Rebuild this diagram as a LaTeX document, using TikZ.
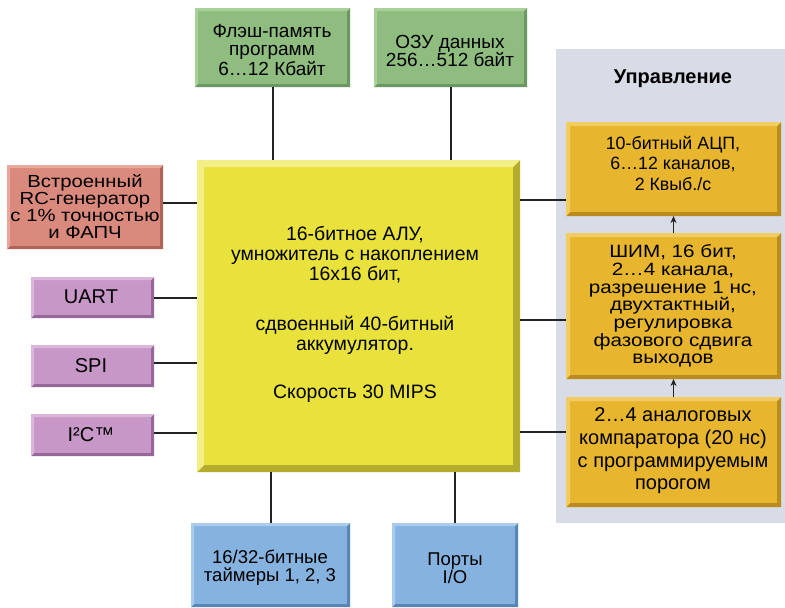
\documentclass[tikz,border=0pt]{standalone}
\usepackage{fontspec}
\setmainfont{Liberation Sans}
\newfontfamily\widesans{Liberation Sans}[FakeStretch=1.16]
\usetikzlibrary{arrows.meta,fit}
\definecolor{cpuY}{HTML}{E9E23C}
\definecolor{cpuD}{HTML}{B3AC2C}
\definecolor{cpuL}{HTML}{F3EF86}
\definecolor{grnF}{HTML}{8EBD7F}
\definecolor{grnD}{HTML}{6A9860}
\definecolor{grnL}{HTML}{A9D09B}
\definecolor{salF}{HTML}{D98A7C}
\definecolor{salD}{HTML}{AE6458}
\definecolor{salL}{HTML}{E8A79A}
\definecolor{purF}{HTML}{C797C8}
\definecolor{purD}{HTML}{96689A}
\definecolor{purL}{HTML}{DBB6DB}
\definecolor{bluF}{HTML}{86B2DF}
\definecolor{bluD}{HTML}{5886B4}
\definecolor{bluL}{HTML}{A9CBEC}
\definecolor{orgF}{HTML}{E7B62E}
\definecolor{orgD}{HTML}{BA8C1C}
\definecolor{orgL}{HTML}{F1CC62}
\definecolor{panelC}{HTML}{D8DCE7}
\definecolor{lineC}{HTML}{222222}
% name, x1, y1, x2, y2, fill, dark, light, bevel
\newcommand\bvbox[9]{%
  \node[inner sep=0pt, outer sep=0pt, fit={(#2,#3)(#4,#5)}, fill=#6] (#1) {};
  \fill[#7] (#1.north east) -- (#1.south east) -- (#1.south west)
    -- ([shift={(#9,-#9)}]#1.south west) -- ([shift={(-#9,-#9)}]#1.south east)
    -- ([shift={(-#9,#9)}]#1.north east) -- cycle;
  \fill[#8] (#1.north west) -- (#1.north east) -- ([shift={(-#9,#9)}]#1.north east)
    -- ([shift={(#9,#9)}]#1.north west) -- ([shift={(#9,-#9)}]#1.south west)
    -- (#1.south west) -- cycle;
}
\tikzset{
  txt/.style 2 args={align=center, inner sep=0pt, text=black, font=\fontsize{#1}{#2}\selectfont},
  wtxt/.style 2 args={align=center, inner sep=0pt, text=black, font=\widesans\fontsize{#1}{#2}\selectfont},
  conn/.style={draw=lineC, line width=2pt},
  upar/.style={draw=lineC, line width=1.5pt, -{Stealth[length=7pt,width=6pt]}}
}
\begin{document}
\begin{tikzpicture}[x=1pt,y=-1pt]
\useasboundingbox (0,0) rectangle (785,608);
\fill[white] (0,0) rectangle (785,608);
% right panel
\node[inner sep=0pt, outer sep=0pt, fit={(556,49)(785,523)}, fill=panelC] (panel) {};
\node[align=center, inner sep=0pt, font=\fontsize{20}{22}\selectfont\bfseries] (ctl) at (673,79) {Управление};
% boxes
\bvbox{flash}{195}{8}{350}{87}{grnF}{grnD}{grnL}{3}
\bvbox{ozu}{374}{8}{527}{87}{grnF}{grnD}{grnL}{3}
\bvbox{rc}{7}{165}{163}{249}{salF}{salD}{salL}{3}
\bvbox{uart}{31}{277}{154}{318}{purF}{purD}{purL}{3}
\bvbox{spi}{31}{345}{154}{387}{purF}{purD}{purL}{3}
\bvbox{iic}{31}{414}{154}{456}{purF}{purD}{purL}{3}
\bvbox{cpu}{197}{160}{520}{472}{cpuY}{cpuD}{cpuL}{7}
\bvbox{tmr}{191}{523}{350}{607}{bluF}{bluD}{bluL}{3}
\bvbox{io}{392}{523}{518}{607}{bluF}{bluD}{bluL}{3}
\bvbox{adc}{566}{122}{781}{216}{orgF}{orgD}{orgL}{4}
\bvbox{pwm}{566}{233}{781}{379}{orgF}{orgD}{orgL}{4}
\bvbox{cmp}{566}{397}{781}{507}{orgF}{orgD}{orgL}{4}
% texts
\node[txt={19}{18}] (flash-t) at (272,50) {Флэш-память\\программ\\6…12 Кбайт};
\node[txt={19}{18}] (ozu-t) at (450,51) {ОЗУ данных\\256…512 байт};
\node[wtxt={17.5}{17}] (rc-t) at (85,207) {Встроенный\\RC-генератор\\с 1\% точностью\\и ФАПЧ};
\node[txt={20}{18}] (uart-t) at (91,297) {UART};
\node[txt={20}{18}] (spi-t) at (91,366) {SPI};
\node[txt={20}{18}] (iic-t) at (91,435) {I²C™};
\node[txt={19.4}{20}] (cpu-t) at (355,314) {16-битное АЛУ,\\умножитель с накоплением\\16x16 бит,\\[30pt]сдвоенный 40-битный\\аккумулятор.\\[28pt]Скорость 30 MIPS};
\node[txt={18.5}{18}] (tmr-t) at (270,568) {16/32-битные\\таймеры 1, 2, 3};
\node[txt={18.5}{18}] (io-t) at (455,568) {Порты\\I/O};
\node[txt={17.8}{20.5}] (adc-t) at (673,163) {10-битный АЦП,\\6…12 каналов,\\2 Квыб./с};
\node[wtxt={17.8}{17.7}] (pwm-t) at (673,306) {ШИМ, 16 бит,\\2…4 канала,\\разрешение 1 нс,\\двухтактный,\\регулировка\\фазового сдвига\\выходов};
\node[txt={20}{22.7}] (cmp-t) at (673,451) {2…4 аналоговых\\компаратора (20 нс)\\с программируемым\\порогом};
% connectors
\draw[conn] (flash.south) -- (flash.south |- cpu.north);
\draw[conn] (ozu.south) -- (ozu.south |- cpu.north);
\draw[conn] (tmr.north) -- (tmr.north |- cpu.south);
\draw[conn] (io.north) -- (io.north |- cpu.south);
\draw[conn] ([shift={(0,-4)}]rc.east) -- ([shift={(0,-4)}]rc.east -| cpu.west);
\draw[conn] (uart.east) -- (uart.east -| cpu.west);
\draw[conn] ([shift={(0,-3)}]spi.east) -- ([shift={(0,-3)}]spi.east -| cpu.west);
\draw[conn] ([shift={(0,-2)}]iic.east) -- ([shift={(0,-2)}]iic.east -| cpu.west);
\coordinate (adcin) at ([shift={(0,31)}]adc.west);
\coordinate (pwmin) at ([shift={(0,14)}]pwm.west);
\coordinate (cmpin) at ([shift={(0,-20)}]cmp.west);
\draw[conn] (adcin) -- (adcin -| cpu.east);
\draw[conn] (pwmin) -- (pwmin -| cpu.east);
\draw[conn] (cmpin) -- (cmpin -| cpu.east);
\draw[upar] (pwm.north) -- (adc.south);
\draw[upar] (cmp.north) -- (pwm.south);
\end{tikzpicture}
\end{document}
